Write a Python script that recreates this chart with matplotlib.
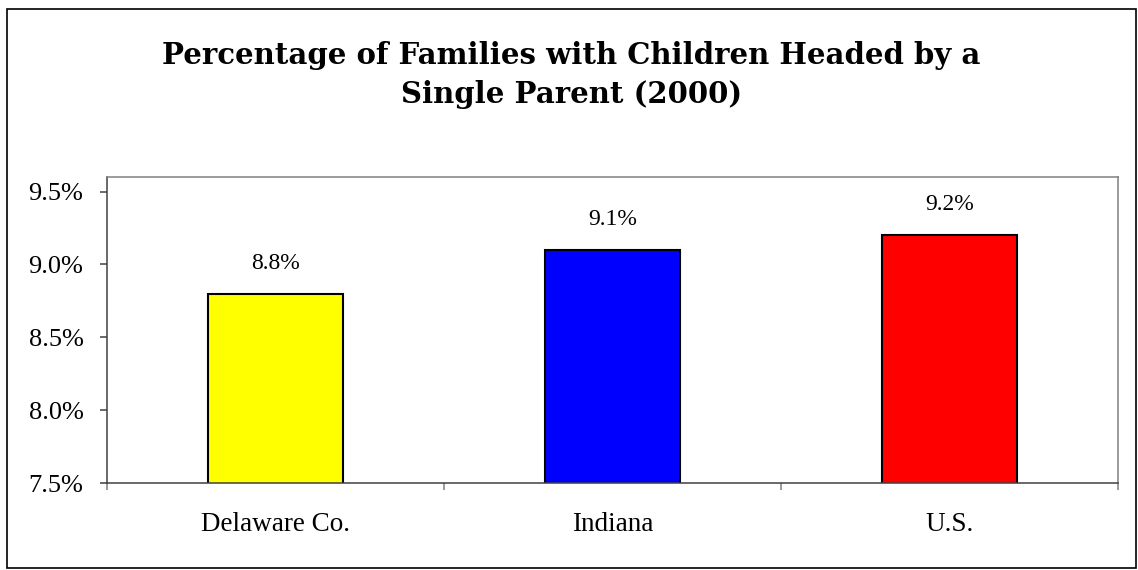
import matplotlib.pyplot as plt
import matplotlib.patches as mpatches

# ── Data ──────────────────────────────────────────────
categories = ['Delaware Co.', 'Indiana', 'U.S.']
values = [8.8, 9.1, 9.2]          # percent
bar_colors = ['#FFFF00', '#0000FF', '#FF0000']
yticks = [7.5, 8.0, 8.5, 9.0, 9.5]

serif = ['Liberation Serif', 'DejaVu Serif']

# ── Plot ──────────────────────────────────────────────
fig = plt.figure(figsize=(11.38, 5.70), dpi=100)
fig.patch.set_facecolor('white')
ax = fig.add_axes([107 / 1138, 87 / 570, 1011 / 1138, 306 / 570])

x = range(len(categories))
ax.bar(x, values, width=0.4, color=bar_colors, edgecolor='black', linewidth=1.5)

for xi, v in zip(x, values):
    ax.annotate(f'{v:.1f}%', (xi, v), xytext=(0, 22), textcoords='offset points',
                ha='center', va='center', fontsize=17, family=serif)

ax.set_xlim(-0.5, len(categories) - 0.5)
ax.set_ylim(7.5, 9.6)
ax.set_yticks(yticks)
ax.set_yticklabels([f'{t:.1f}%' for t in yticks], fontsize=19, family=serif)
ax.tick_params(axis='y', length=5, width=1.1, color='#404040', pad=12)

# category labels centred, tick marks between categories
ax.set_xticks(list(x))
ax.set_xticklabels(categories, fontsize=19.5, family=serif)
ax.tick_params(axis='x', which='major', length=0, pad=21)
ax.set_xticks([i - 0.5 for i in range(len(categories) + 1)], minor=True)
ax.tick_params(axis='x', which='minor', length=5, width=1.1, color='#808080')

for side in ['left', 'bottom']:
    ax.spines[side].set_color('#404040')
    ax.spines[side].set_linewidth(1.1)
for side in ['top', 'right']:
    ax.spines[side].set_color('#808080')
    ax.spines[side].set_linewidth(1.1)

fig.text(0.502, (570 - 103) / 570,
         'Percentage of Families with Children Headed by a\nSingle Parent (2000)',
         ha='center', va='baseline', fontsize=21, fontweight='bold',
         family='DejaVu Serif', linespacing=1.45)

# outer frame
fig.patches.append(mpatches.Rectangle((7 / 1138, 2 / 570), 1129 / 1138, 559 / 570,
                                      transform=fig.transFigure, fill=False,
                                      edgecolor='black', linewidth=1.2))

plt.savefig('out.png', dpi=100)
